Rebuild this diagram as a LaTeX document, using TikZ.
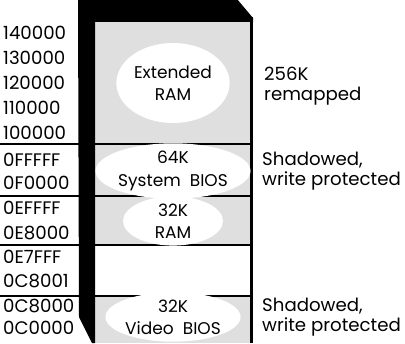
\documentclass[tikz,border=0pt]{standalone}
\usepackage{fontspec}
\setmainfont{Poppins}
\usetikzlibrary{positioning,shapes.geometric}

\begin{document}
\begin{tikzpicture}[x=0.03cm, y=-0.03cm,
        addr/.style={anchor=west, inner sep=0pt, font=\fontsize{15.5}{17}\selectfont},
        note/.style={anchor=west, align=left, inner sep=0pt, font=\fontsize{15.5}{17}\selectfont},
        blob/.style={ellipse, fill=white, inner sep=0pt, align=center, font=\fontsize{14.5}{19}\selectfont},
        rule/.style={line width=1.3pt},
        bar/.style={line width=1.8pt}
    ]
    \useasboundingbox (0,0) rectangle (405,343);

    % memory column
    \fill[gray!25] (95,22) rectangle (251,343);
    \fill[white] (95,245) rectangle (251,296);
    \fill[black] (78,-1) -- (237,-1) -- (253,18) -- (253,22) -- (95,22) -- (95,343)
        -- (92,343) -- (79,317) -- cycle;
    \draw[line width=2.4pt] (251.5,17) -- (251.5,343);

    % address column
    \node[addr] (a140) at (3,33) {140000};
    \node[addr] (a130) at (3,58) {130000};
    \node[addr] (a120) at (3,83) {120000};
    \node[addr] (a110) at (3,108) {110000};
    \node[addr] (a100) at (3,133) {100000};
    \node[addr] (aFFF) at (3,160) {0FFFFF};
    \node[addr] (aF00) at (3,183) {0F0000};
    \node[addr] (aEFF) at (3,208) {0EFFFF};
    \node[addr] (aE80) at (3,233) {0E8000};
    \node[addr] (aE7F) at (3,257) {0E7FFF};
    \node[addr] (aC81) at (3,281) {0C8001};
    \node[addr] (aC80) at (3,306) {0C8000};
    \node[addr] (aC00) at (3,328) {0C0000};

    % boundaries
    \foreach \y in {144,196,245,296} {
        \draw[rule] (0,\y) -- (79,\y);
        \draw[bar] (95,\y) -- (252,\y);
    }

    % blocks
    \node[blob, minimum width=3.4cm, minimum height=2.4cm] (ext) at (173,83) {Extended\\RAM};
    \node[blob, minimum width=4.0cm, minimum height=1.35cm] (sys) at (173,171) {64K\\System\ \ BIOS};
    \node[blob, minimum width=3.0cm, minimum height=1.4cm] (ram) at (173,221) {32K\\RAM};
    \node[blob, minimum width=4.0cm, minimum height=1.35cm] (vid) at (173,317) {32K\\Video\ \ BIOS};

    % remarks
    \node[note] (remap) at (264,86) {256K\\remapped};
    \node[note] (shsys) at (262,171) {Shadowed,\\write protected};
    \node[note] (shvid) at (262,317) {Shadowed,\\write protected};
\end{tikzpicture}
\end{document}
